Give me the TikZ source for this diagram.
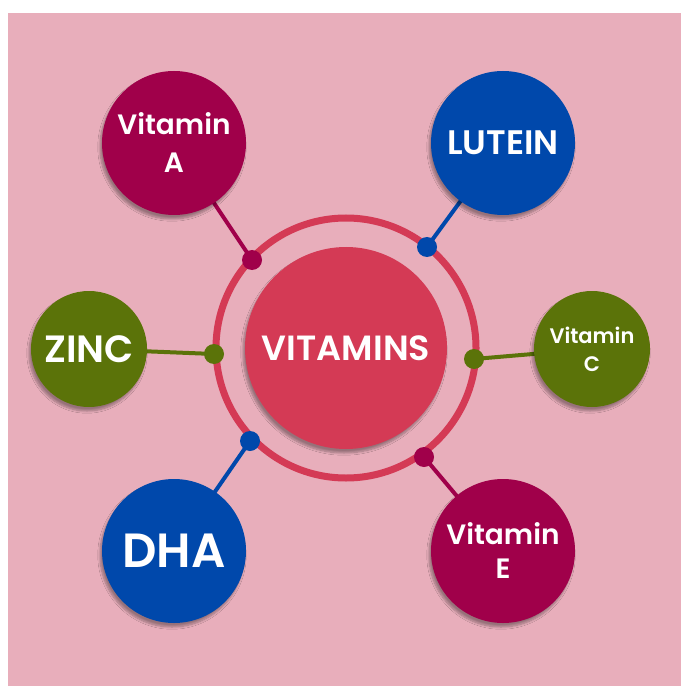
\documentclass[tikz,border=0pt]{standalone}
\usepackage{fontspec}
\setmainfont{Poppins}[UprightFont={* SemiBold},BoldFont={* Bold}]
\usetikzlibrary{shadows.blur}
\definecolor{bgpink}{HTML}{E8AEBB}
\definecolor{maroon}{HTML}{A0004A}
\definecolor{royal}{HTML}{0048AB}
\definecolor{olive}{HTML}{5B7309}
\definecolor{core}{HTML}{D43A55}
\tikzset{
  bubble/.style={circle, minimum size=#1, inner sep=0pt, text=white, align=center,
    blur shadow={shadow xshift=-2pt, shadow yshift=-4pt, shadow blur steps=8, shadow opacity=35}},
  dot/.style={circle, fill=#1, minimum size=20pt, inner sep=0pt},
  link/.style={line width=4pt, draw=#1},
}
\begin{document}
\begin{tikzpicture}[x=1pt,y=-1pt]
\useasboundingbox (0,0) rectangle (690,700);
\fill[white] (0,0) rectangle (690,700);
\fill[bgpink] (8,13) rectangle (681,686);
% ring
\draw[core, line width=7pt] (346,348) circle[radius=130];
% dots
\node[dot=maroon] (da) at (252,260) {};
\node[dot=royal] (dl) at (427,247) {};
\node[dot=olive] (dz) at (214,354) {};
\node[dot=olive] (dc) at (474,359) {};
\node[dot=royal] (dd) at (250,441) {};
\node[dot=maroon] (de) at (424,457) {};
% outer node positions
\coordinate (ca) at (174,143);
\coordinate (cl) at (503,143);
\coordinate (cz) at (89,349);
\coordinate (cc) at (592,349);
\coordinate (cd) at (174,551);
\coordinate (ce) at (503,551);
% links
\draw[link=maroon] (da.center) -- (ca);
\draw[link=royal] (dl.center) -- (cl);
\draw[link=olive] (dz.center) -- (cz);
\draw[link=olive] (dc.center) -- (cc);
\draw[link=royal] (dd.center) -- (cd);
\draw[link=maroon] (de.center) -- (ce);
% bubbles
\node[bubble=202pt, fill=core, font=\fontsize{35}{36}\selectfont] (v) at (346,348) {VITAMINS};
\node[bubble=144pt, fill=maroon, font=\fontsize{28}{38}\selectfont] (a) at (ca) {Vitamin\\A};
\node[bubble=144pt, fill=royal, font=\fontsize{34}{36}\selectfont] (l) at (cl) {LUTEIN};
\node[bubble=116pt, fill=olive, font=\fontsize{38}{40}\selectfont] (z) at (cz) {ZINC};
\node[bubble=116pt, fill=olive, font=\fontsize{21}{28}\selectfont] (c) at (cc) {Vitamin\\C};
\node[bubble=144pt, fill=royal, font=\fontsize{48}{50}\selectfont] (d) at (cd) {DHA};
\node[bubble=144pt, fill=maroon, font=\fontsize{28}{34}\selectfont] (e) at (ce) {Vitamin\\E};
\end{tikzpicture}
\end{document}
